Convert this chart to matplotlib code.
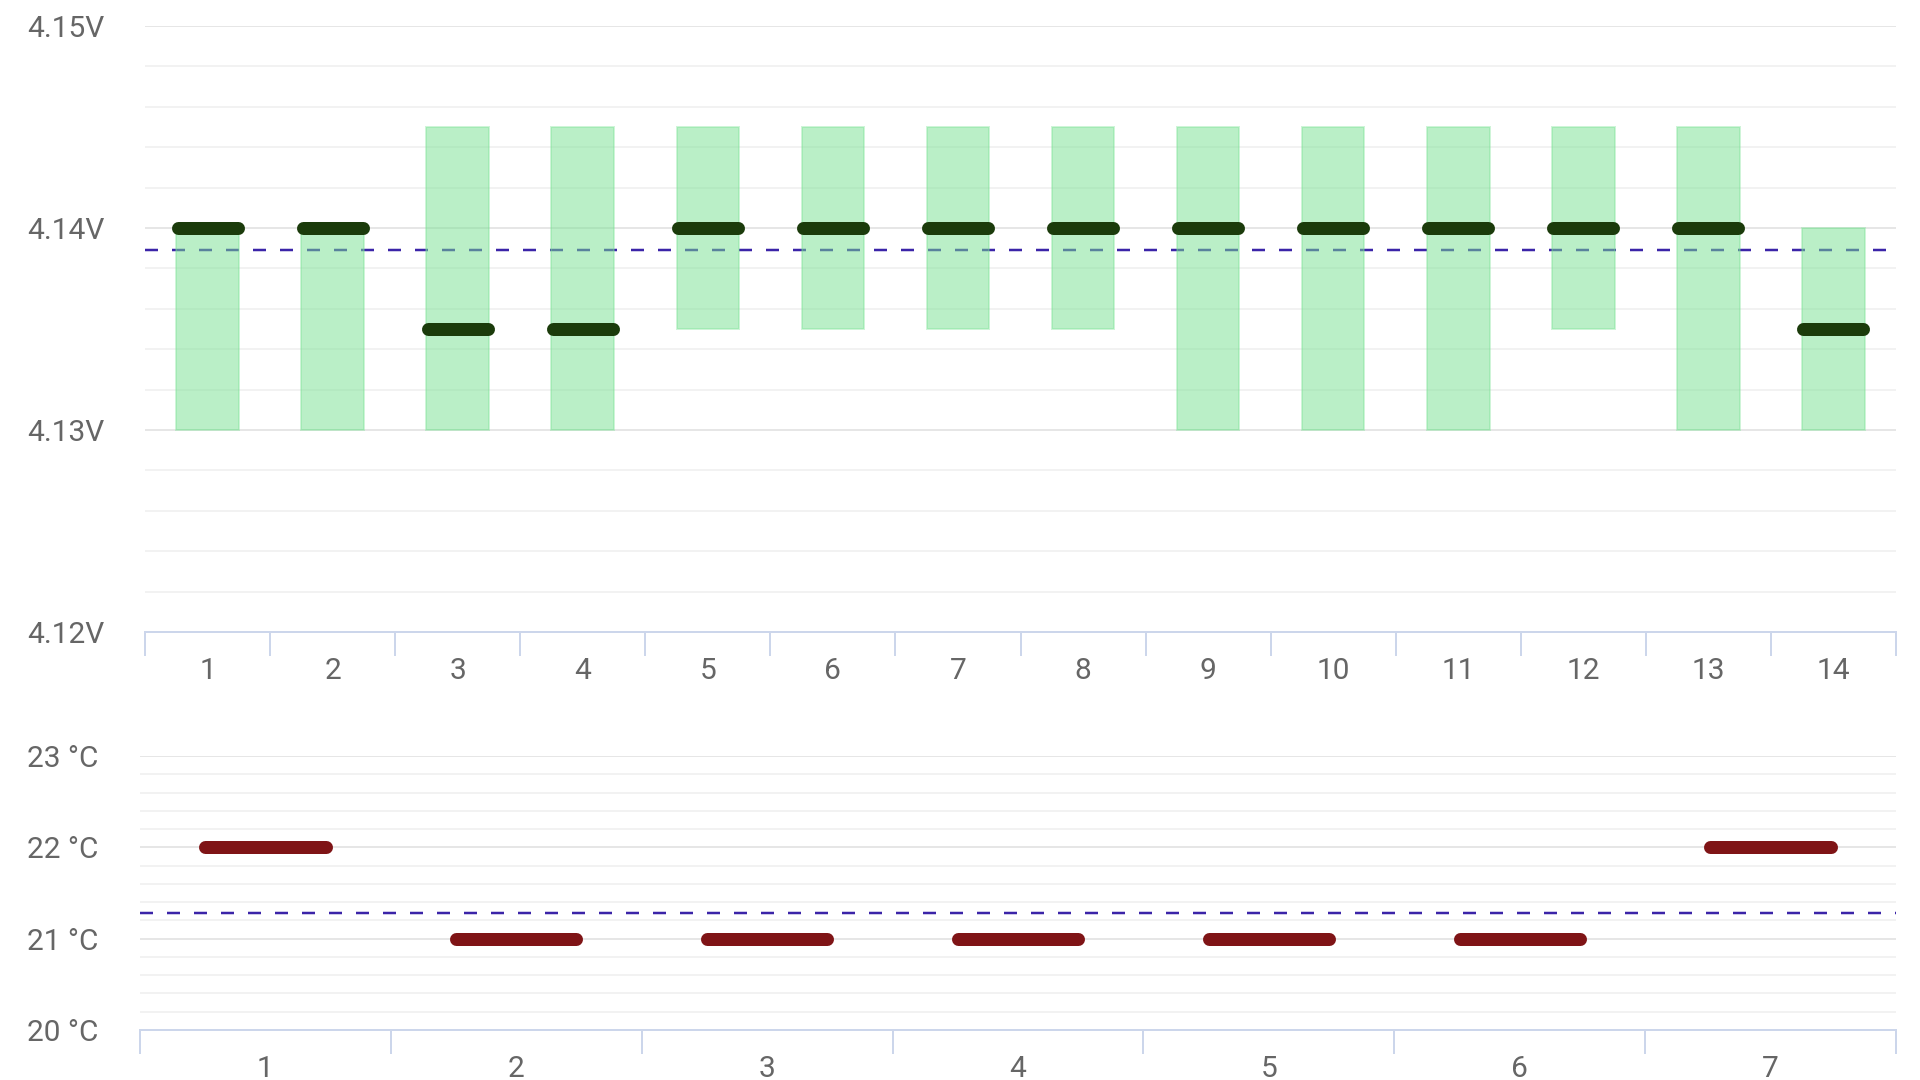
import numpy as np
import matplotlib.pyplot as plt
from matplotlib.ticker import MultipleLocator

plt.rcParams['font.family'] = ['Roboto', 'DejaVu Sans']

# voltage per cell: range and median
cells = [str(i) for i in range(1, 15)]
v_low = [4.13, 4.13, 4.13, 4.13, 4.135, 4.135, 4.135, 4.135, 4.13, 4.13, 4.13, 4.135, 4.13, 4.13]
v_high = [4.14, 4.14, 4.145, 4.145, 4.145, 4.145, 4.145, 4.145, 4.145, 4.145, 4.145, 4.145, 4.145, 4.14]
v_med = [4.14, 4.14, 4.135, 4.135, 4.14, 4.14, 4.14, 4.14, 4.14, 4.14, 4.14, 4.14, 4.14, 4.135]

# temperature sensors
sensors = [str(i) for i in range(1, 8)]
temps = [22, 21, 21, 21, 21, 21, 22]

W, H = 1920, 1080
PX = 0.72  # points per pixel at dpi 100
FS = 21.5
label_col = '#666666'
axis_col = '#ccd6eb'
mean_col = '#3b24a8'

fig = plt.figure(figsize=(19.2, 10.8), dpi=100)
fig.patch.set_facecolor('white')


def style_axes(ax, n, left_px, ylab_fmt, major, minor):
    for s in ['top', 'right', 'left']:
        ax.spines[s].set_visible(False)
    ax.spines['bottom'].set_color(axis_col)
    ax.spines['bottom'].set_linewidth(2 * PX)
    ax.set_xlim(0, n)
    ax.set_xticks(np.arange(n + 1))
    ax.set_xticklabels([])
    ax.tick_params(axis='x', which='major', length=24 * PX, width=2 * PX,
                   color=axis_col, direction='out')
    ax.yaxis.set_major_locator(MultipleLocator(major))
    ax.yaxis.set_minor_locator(MultipleLocator(minor))
    ax.grid(axis='y', which='major', color='#e6e6e6', lw=2 * PX, zorder=0)
    ax.grid(axis='y', which='minor', color='#f2f2f2', lw=2 * PX, zorder=0)
    ax.set_axisbelow(True)
    ax.tick_params(axis='y', which='both', length=0)
    ax.tick_params(axis='y', which='major', labelsize=FS, labelcolor=label_col,
                   pad=(left_px - 27) * PX)
    ax.yaxis.set_major_formatter(ylab_fmt)
    for lbl in ax.get_yticklabels():
        lbl.set_horizontalalignment('left')


# ---- voltages
ax1 = fig.add_axes([145 / W, 1 - 632 / H, (1896 - 145) / W, (632 - 26) / H])
x1 = np.arange(len(cells)) + 0.5
ax1.set_ylim(4.12, 4.15)
style_axes(ax1, len(cells), 145, lambda v, p: f'{v:.2f}V', 0.01, 0.002)
ax1.set_xticks(x1, cells, minor=True)
ax1.tick_params(axis='x', which='minor', length=0, labelsize=FS,
                labelcolor=label_col, pad=25 * PX)

ax1.axhline(np.mean(v_med), color=mean_col, lw=2.5 * PX,
            ls=(0, (13 / 2.5, 14 / 2.5)), zorder=2)
ax1.bar(x1, np.array(v_high) - np.array(v_low), bottom=v_low, width=0.5,
        facecolor=(119 / 255, 225 / 255, 145 / 255, 0.5),
        edgecolor=(119 / 255, 225 / 255, 145 / 255, 0.35), lw=2 * PX, zorder=3)
ax1.hlines(v_med, x1 - 0.24, x1 + 0.24, colors='#1b3b0b', lw=13 * PX,
           capstyle='round', zorder=4)

# ---- temperatures
ax2 = fig.add_axes([140 / W, 1 - 1030 / H, (1896 - 140) / W, (1030 - 756) / H])
x2 = np.arange(len(sensors)) + 0.5
ax2.set_ylim(20, 23)
style_axes(ax2, len(sensors), 140, lambda v, p: f'{v:.0f} °C', 1, 0.2)
ax2.set_xticks(x2, sensors, minor=True)
ax2.tick_params(axis='x', which='minor', length=0, labelsize=FS,
                labelcolor=label_col, pad=25 * PX)

ax2.axhline(np.mean(temps), color=mean_col, lw=2.5 * PX,
            ls=(0, (13 / 2.5, 14 / 2.5)), zorder=2)
ax2.hlines(temps, x2 - 0.24, x2 + 0.24, colors='#7f1416', lw=13 * PX,
           capstyle='round', zorder=4)

fig.savefig('out.png', dpi=100)
